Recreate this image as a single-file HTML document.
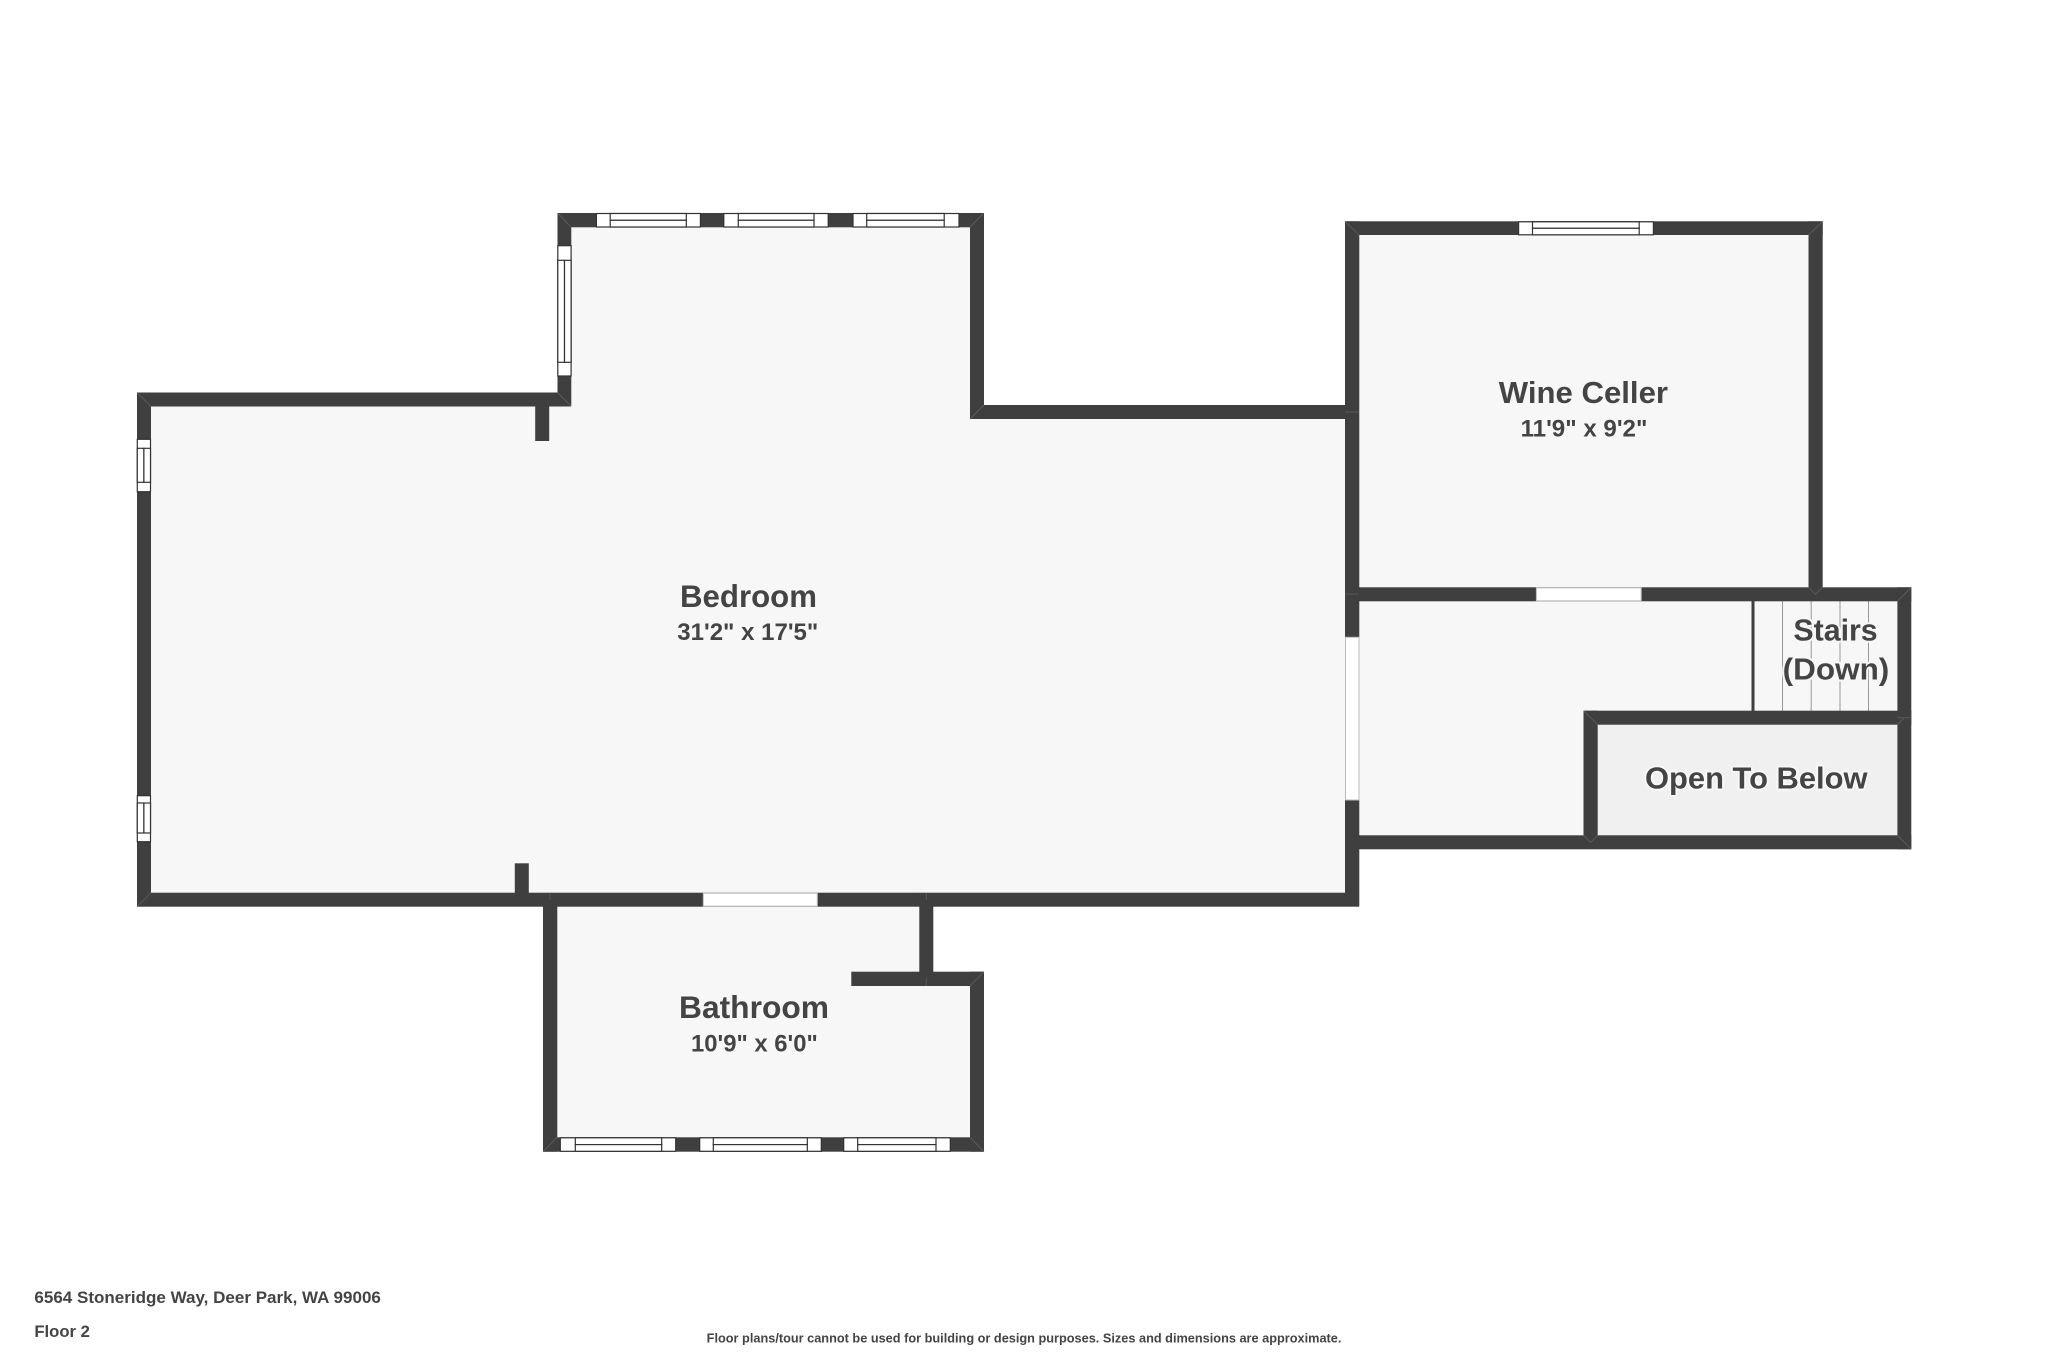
<!DOCTYPE html>
<html><head><meta charset="utf-8"><title>Floor 2</title>
<style>html,body{margin:0;padding:0;background:#fff}svg{display:block}
text{font-family:"Liberation Sans",sans-serif;font-weight:bold;fill:#444}
.l{stroke:#f7f7f7;stroke-width:4;paint-order:stroke;stroke-linejoin:round}
.w{fill:#3f3f3f}.m{stroke:#666;stroke-width:1;fill:none}
.win{fill:#fff;stroke:#333;stroke-width:1.2}
.d{fill:#fff;stroke:#bbb;stroke-width:1}
</style></head><body>
<svg width="2048" height="1365" viewBox="0 0 2048 1365" xmlns="http://www.w3.org/2000/svg">
<rect width="2048" height="1365" fill="#fff"/>
<!-- floors -->
<path d="M144 399H564V220H977V412H1352V900H144Z" fill="#f7f7f7"/>
<rect x="1352" y="228" width="463" height="366" fill="#f7f7f7"/>
<rect x="1352" y="594" width="552" height="248" fill="#f7f7f7"/>
<rect x="1590" y="717" width="314" height="125" fill="#f0f0f0"/>
<path d="M550 900H926V978H977V1144H550Z" fill="#f7f7f7"/>
<!-- stairs -->
<rect x="1751.5" y="601" width="3" height="110" fill="#3f3f3f"/>
<g stroke="#999" stroke-width="1"><path d="M1782.5 601V711M1811.2 601V711M1840 601V711M1868.5 601V711"/></g>
<!-- walls -->
<g class="w">
<rect x="137" y="392.5" width="434" height="14"/>
<rect x="557.5" y="213" width="426.5" height="14.3"/>
<rect x="557.5" y="213" width="13.8" height="193"/>
<rect x="970" y="213" width="14" height="206"/>
<rect x="970" y="405" width="389" height="14"/>
<rect x="137" y="392.5" width="14" height="514"/>
<rect x="535.2" y="400" width="14" height="41"/>
<rect x="137" y="892.7" width="1222" height="14"/>
<rect x="514.8" y="863.3" width="14" height="32"/>
<rect x="1345" y="221.3" width="14.3" height="685"/>
<rect x="1345" y="221.3" width="477.7" height="13.7"/>
<rect x="1808.5" y="221.3" width="14.2" height="375"/>
<rect x="1345" y="587.3" width="566.3" height="14"/>
<rect x="1897.4" y="587.3" width="13.9" height="262"/>
<rect x="1583.5" y="710.7" width="327.8" height="14"/>
<rect x="1583.5" y="710.7" width="14.2" height="138"/>
<rect x="1345" y="835.3" width="566.3" height="14"/>
<rect x="543" y="893" width="14.3" height="258.7"/>
<rect x="543" y="1137.3" width="441" height="14.4"/>
<rect x="970" y="971.7" width="14" height="180"/>
<rect x="851.3" y="971.7" width="132.7" height="14.3"/>
<rect x="919.3" y="893" width="14" height="85"/>
</g>
<!-- miter lines -->
<g class="m">
<path d="M557.5 213L571 227M984 213L970 227M557.5 392.5L571 406M970 419L984 405M137 392.5L151 406.5M137 906.7L151 892.7M1345 221.3L1359 235M1822.7 221.3L1808.5 235M1911.3 587.3L1897.4 601.3M1911.3 849.3L1897.4 835.3M1583.5 710.7L1597.7 724.7M543 1151.7L557 1137.3M984 1151.7L970 1137.3M984 971.7L970 986M1808.5 587.3L1815.5 594.3L1822.7 587.3M1583.5 835.3L1590.6 842.3L1597.7 835.3M1897.4 717.7L1911.3 717.7M926.3 893V900M926.3 978V986M550 893V900M1345 412H1359M1345 594H1359M1897.4 724.7L1904 718" stroke-opacity=".7"/>
</g>
<!-- doors / openings -->
<rect class="d" x="1536.4" y="587.8" width="104.8" height="13"/>
<rect class="d" x="1345.5" y="637.3" width="13.5" height="162.7"/>
<rect class="d" x="703.3" y="893.2" width="114" height="13"/>
<!-- top windows -->
<g>
<rect class="win" x="596.4" y="213.5" width="104" height="13.5"/><rect class="win" x="610.2" y="213.5" width="76.1" height="6.8"/><rect class="win" x="610.2" y="220.3" width="76.1" height="6.7"/>
<rect class="win" x="723.8" y="213.5" width="104.4" height="13.5"/><rect class="win" x="738.3" y="213.5" width="75.7" height="6.8"/><rect class="win" x="738.3" y="220.3" width="75.7" height="6.7"/>
<rect class="win" x="853" y="213.5" width="106" height="13.5"/><rect class="win" x="866.7" y="213.5" width="77.5" height="6.8"/><rect class="win" x="866.7" y="220.3" width="77.5" height="6.7"/>
<!-- upper left window -->
<rect class="win" x="557.8" y="245.7" width="13.3" height="130.3"/><rect class="win" x="557.8" y="260.3" width="6.7" height="102"/><rect class="win" x="564.5" y="260.3" width="6.6" height="102"/>
<!-- left wall windows -->
<rect class="win" x="137.3" y="439.3" width="13.2" height="52.4"/><rect class="win" x="137.3" y="448.3" width="6.6" height="34"/><rect class="win" x="143.9" y="448.3" width="6.6" height="34"/>
<rect class="win" x="137.3" y="795.7" width="13.2" height="46"/><rect class="win" x="137.3" y="803" width="6.6" height="30"/><rect class="win" x="143.9" y="803" width="6.6" height="30"/>
<!-- wine cellar window -->
<rect class="win" x="1518.6" y="221.8" width="134.8" height="13"/><rect class="win" x="1532.5" y="221.8" width="106.7" height="6.5"/><rect class="win" x="1532.5" y="228.3" width="106.7" height="6.5"/>
<!-- bathroom windows -->
<rect class="win" x="560.3" y="1137.8" width="115.4" height="13.5"/><rect class="win" x="575.3" y="1137.8" width="86.4" height="6.8"/><rect class="win" x="575.3" y="1144.6" width="86.4" height="6.7"/>
<rect class="win" x="699.7" y="1137.8" width="121.6" height="13.5"/><rect class="win" x="713.3" y="1137.8" width="94" height="6.8"/><rect class="win" x="713.3" y="1144.6" width="94" height="6.7"/>
<rect class="win" x="843.7" y="1137.8" width="106.6" height="13.5"/><rect class="win" x="857.7" y="1137.8" width="78.3" height="6.8"/><rect class="win" x="857.7" y="1144.6" width="78.3" height="6.7"/>
</g>
<!-- labels -->
<text class="l" x="680" y="606.8" font-size="31.5" textLength="137" lengthAdjust="spacingAndGlyphs">Bedroom</text>
<text class="l" x="677.3" y="640" font-size="24.5" textLength="141" lengthAdjust="spacingAndGlyphs">31'2" x 17'5"</text>
<text class="l" x="1498.8" y="403" font-size="31" textLength="169.2" lengthAdjust="spacingAndGlyphs">Wine Celler</text>
<text class="l" x="1520.6" y="436.7" font-size="24.5" textLength="126.8" lengthAdjust="spacingAndGlyphs">11'9" x 9'2"</text>
<text class="l" x="679" y="1017.8" font-size="31.5" textLength="150" lengthAdjust="spacingAndGlyphs">Bathroom</text>
<text class="l" x="691" y="1051.7" font-size="24.5" textLength="126.8" lengthAdjust="spacingAndGlyphs">10'9" x 6'0"</text>
<text class="l" x="1793.4" y="640.7" font-size="31" textLength="84.3" lengthAdjust="spacingAndGlyphs">Stairs</text>
<text class="l" x="1782.7" y="679.3" font-size="31" textLength="106.6" lengthAdjust="spacingAndGlyphs">(Down)</text>
<text class="l" x="1645" y="788.3" font-size="31" textLength="222.5" lengthAdjust="spacingAndGlyphs">Open To Below</text>
<text x="34.4" y="1303" font-size="17" textLength="346.5" lengthAdjust="spacingAndGlyphs">6564 Stoneridge Way, Deer Park, WA 99006</text>
<text x="34.4" y="1337" font-size="17" textLength="55.5" lengthAdjust="spacingAndGlyphs">Floor 2</text>
<text x="706.7" y="1342.7" font-size="12.5" textLength="634.7" lengthAdjust="spacingAndGlyphs">Floor plans/tour cannot be used for building or design purposes. Sizes and dimensions are approximate.</text>
</svg>
</body></html>
